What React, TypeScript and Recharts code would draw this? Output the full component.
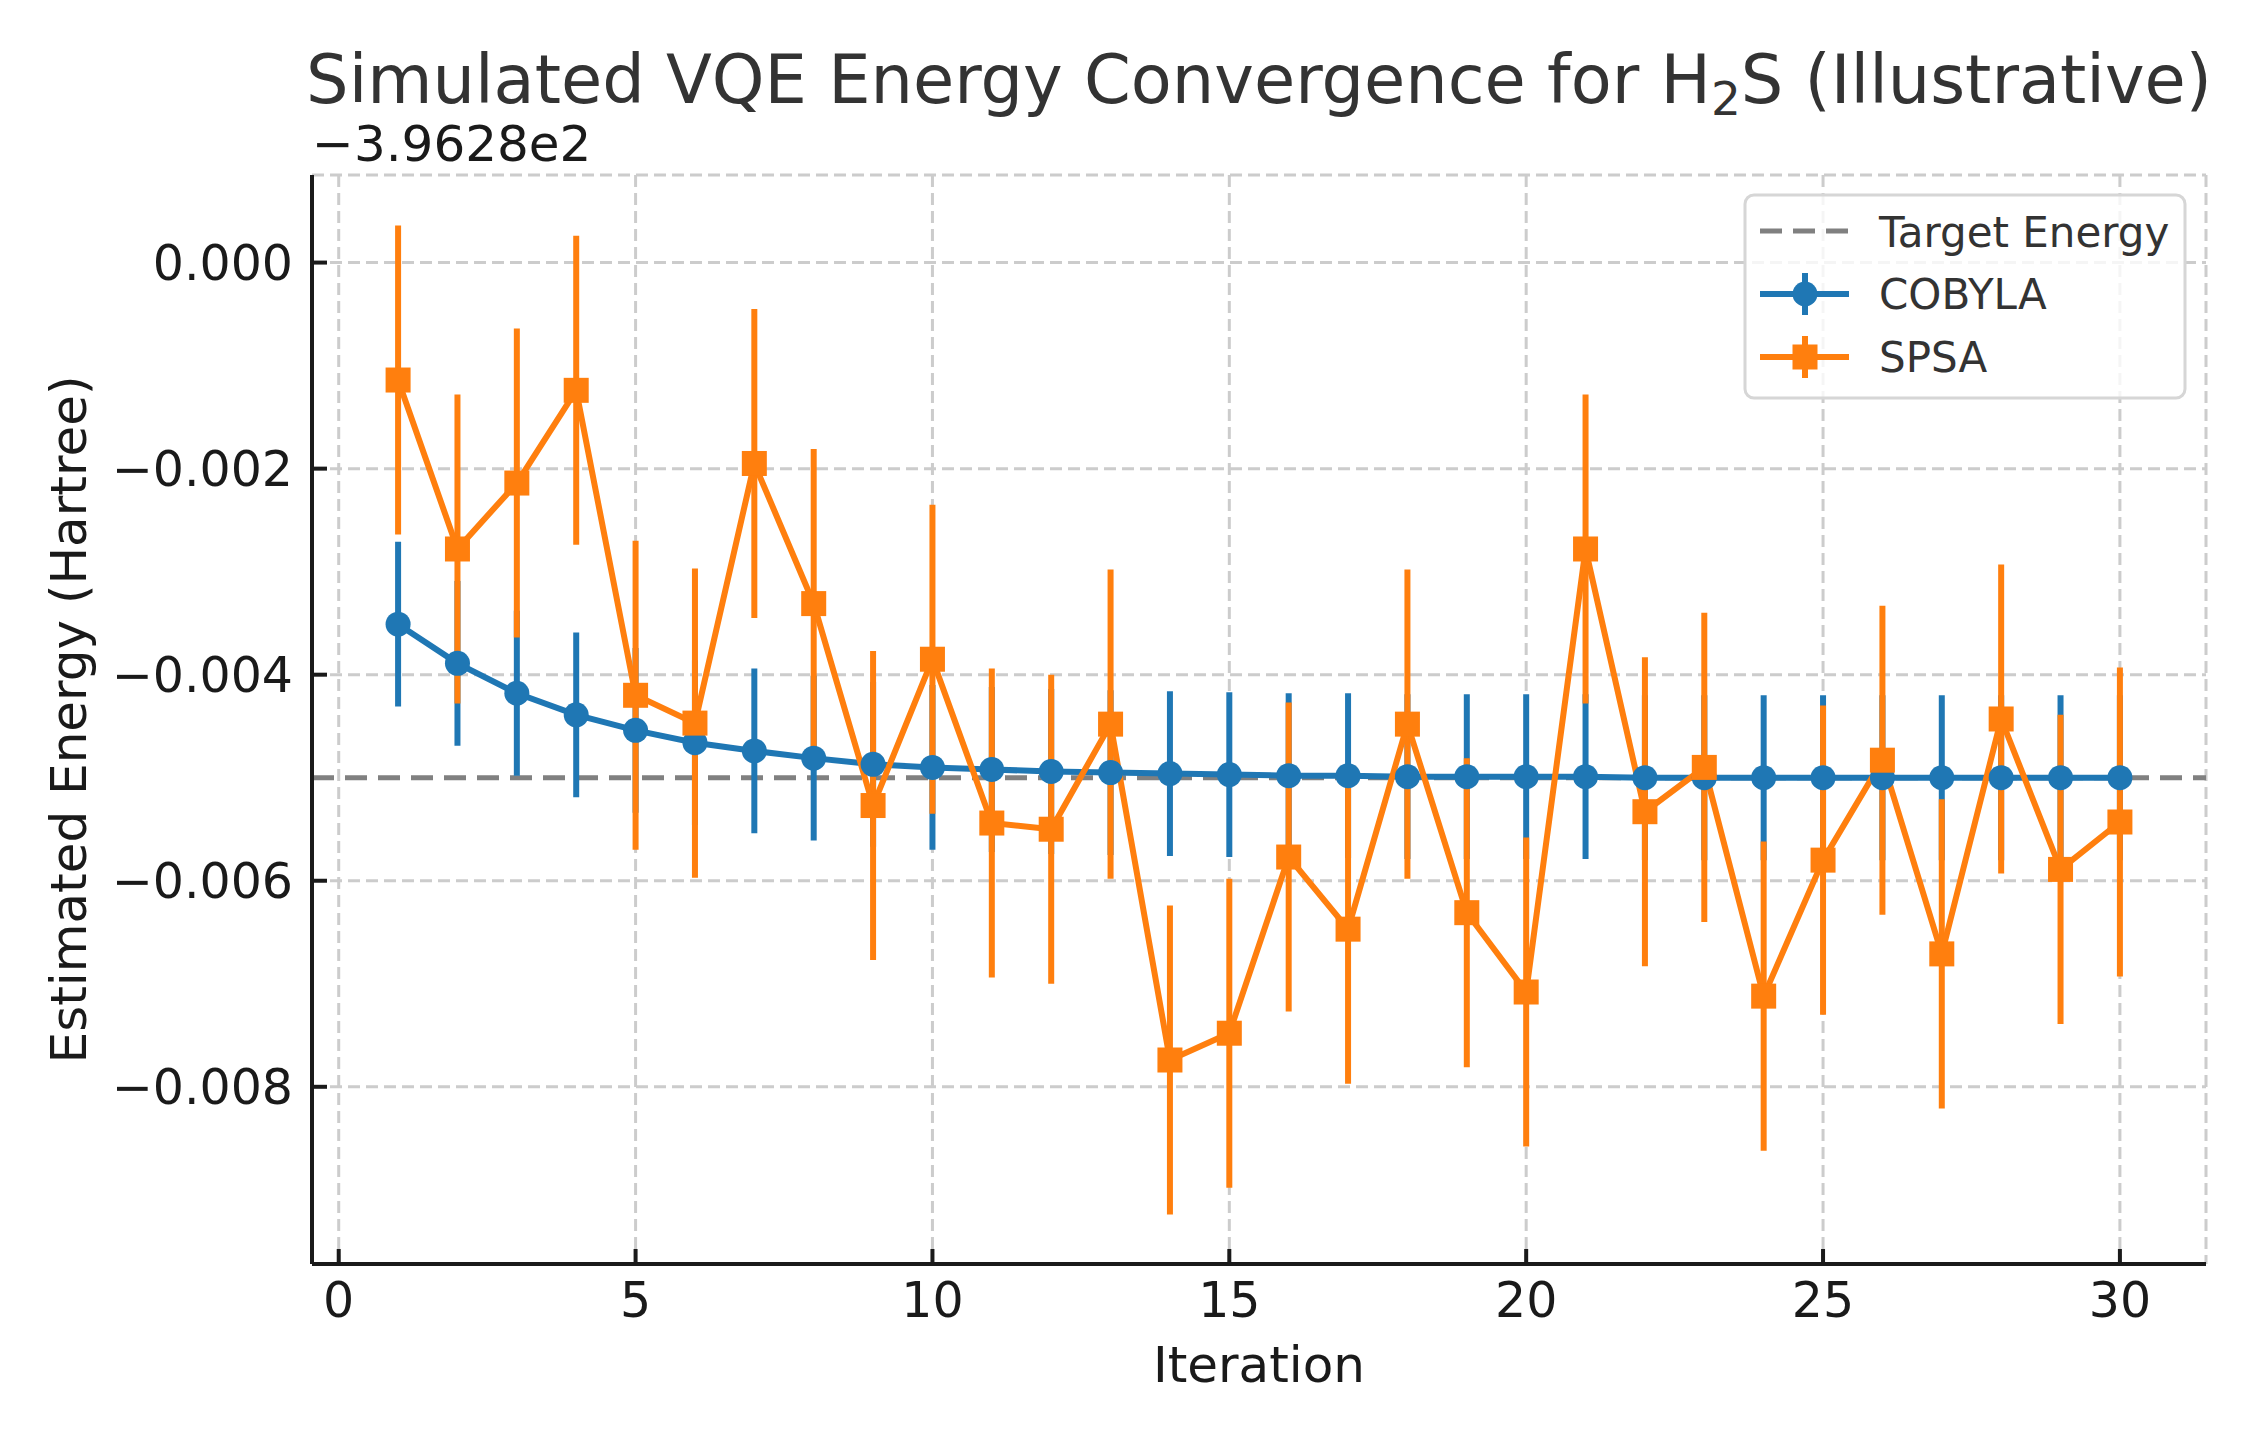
import React from 'react';
import {
  ComposedChart,
  Line,
  XAxis,
  YAxis,
  CartesianGrid,
  ReferenceLine,
  ErrorBar,
} from 'recharts';

// values are offsets from -396.28 Hartree (matplotlib offset text)
const iterations = [
  1, 2, 3, 4, 5, 6, 7, 8, 9, 10, 11, 12, 13, 14, 15,
  16, 17, 18, 19, 20, 21, 22, 23, 24, 25, 26, 27, 28, 29, 30,
];
const cobyla = [
  -0.00351, -0.00389, -0.00418, -0.00439, -0.00454, -0.00466, -0.00474, -0.00481, -0.00487, -0.0049,
  -0.00492, -0.00494, -0.00495, -0.00496, -0.00497, -0.00498, -0.00498, -0.00499, -0.00499, -0.00499,
  -0.00499, -0.005, -0.005, -0.005, -0.005, -0.005, -0.005, -0.005, -0.005, -0.005,
];
const cobylaErr = [
  0.0008, 0.0008, 0.0008, 0.0008, 0.0008, 0.0008, 0.0008, 0.0008, 0.0008, 0.0008,
  0.0008, 0.0008, 0.0008, 0.0008, 0.0008, 0.0008, 0.0008, 0.0008, 0.0008, 0.0008,
  0.0008, 0.0008, 0.0008, 0.0008, 0.0008, 0.0008, 0.0008, 0.0008, 0.0008, 0.0008,
];
const spsa = [
  -0.00114, -0.00278, -0.00214, -0.00124, -0.0042, -0.00447, -0.00195, -0.00331, -0.00527, -0.00385,
  -0.00544, -0.0055, -0.00448, -0.00774, -0.00748, -0.00577, -0.00647, -0.00448, -0.00631, -0.00708,
  -0.00278, -0.00533, -0.0049, -0.00712, -0.0058, -0.00483, -0.00671, -0.00443, -0.00589, -0.00543,
];
const spsaErr = [
  0.0015, 0.0015, 0.0015, 0.0015, 0.0015, 0.0015, 0.0015, 0.0015, 0.0015, 0.0015,
  0.0015, 0.0015, 0.0015, 0.0015, 0.0015, 0.0015, 0.0015, 0.0015, 0.0015, 0.0015,
  0.0015, 0.0015, 0.0015, 0.0015, 0.0015, 0.0015, 0.0015, 0.0015, 0.0015, 0.0015,
];
const targetEnergy = -0.005;
const offsetLabel = '\u22123.9628e2';
const xTicks = [0, 5, 10, 15, 20, 25, 30];
const yTicks = [0, -0.002, -0.004, -0.006, -0.008];

const data = iterations.map((it, i) => ({
  iteration: it,
  cobyla: cobyla[i],
  cobylaErr: cobylaErr[i],
  spsa: spsa[i],
  spsaErr: spsaErr[i],
}));

const BLUE = '#1f77b4';
const ORANGE = '#ff7f0e';
const FONT = '"DejaVu Sans", sans-serif';

const fmtY = (v: number) => (Math.abs(v) < 1e-12 ? '0.000' : '\u2212' + Math.abs(v).toFixed(3));

const SquareDot = (props: any) => {
  const { cx, cy, index } = props;
  if (cx == null || cy == null) return null;
  return <rect key={`sq-${index}`} x={cx - 12.5} y={cy - 12.5} width={25} height={25} fill={ORANGE} />;
};

const XTitle = (props: any) => {
  const vb = props.viewBox || {};
  return (
    <text x={vb.x + vb.width / 2} y={vb.y + 118} textAnchor="middle" fontSize={50} fill="#1a1a1a" fontFamily={FONT}>
      Iteration
    </text>
  );
};

const YTitle = (props: any) => {
  const vb = props.viewBox || {};
  const x = vb.x + 56;
  const y = vb.y + vb.height / 2;
  return (
    <text x={x} y={y} transform={`rotate(-90, ${x}, ${y})`} textAnchor="middle" fontSize={50} fill="#1a1a1a" fontFamily={FONT}>
      Estimated Energy (Hartree)
    </text>
  );
};

export default function App() {
  return (
    <div style={{ position: 'absolute', left: 0, top: 0, width: 2250, height: 1440, background: '#fff', fontFamily: FONT }}>
      <ComposedChart
        width={2250}
        height={1440}
        data={data}
        margin={{ top: 175, right: 44, bottom: 36, left: 30 }}
      >
        <CartesianGrid stroke="#cccccc" strokeWidth={3} strokeDasharray="12 6" />
        <XAxis
          type="number"
          dataKey="iteration"
          domain={[-0.45, 31.45]}
          ticks={xTicks}
          interval={0}
          allowDataOverflow
          height={140}
          tickSize={-15}
          tickMargin={33}
          stroke="#1a1a1a"
          strokeWidth={4}
          tick={{ fontSize: 49, fill: '#1a1a1a', fontFamily: FONT }}
          label={<XTitle />}
        />
        <YAxis
          type="number"
          domain={[-0.00972, 0.00085]}
          ticks={yTicks}
          interval={0}
          allowDataOverflow
          width={282}
          tickSize={-15}
          tickMargin={34}
          tickFormatter={fmtY}
          stroke="#1a1a1a"
          strokeWidth={4}
          tick={{ fontSize: 49, fill: '#1a1a1a', fontFamily: FONT }}
          label={<YTitle />}
        />
        <ReferenceLine y={targetEnergy} stroke="#808080" strokeWidth={5} strokeDasharray="22 11" />
        <Line
          dataKey="cobyla"
          name="COBYLA"
          stroke={BLUE}
          strokeWidth={6}
          dot={{ r: 12.5, fill: BLUE, stroke: 'none' }}
          activeDot={false}
          isAnimationActive={false}
        >
          <ErrorBar dataKey="cobylaErr" direction="y" width={0} stroke={BLUE} strokeWidth={6} isAnimationActive={false} />
        </Line>
        <Line
          dataKey="spsa"
          name="SPSA"
          stroke={ORANGE}
          strokeWidth={6}
          dot={<SquareDot />}
          activeDot={false}
          isAnimationActive={false}
        >
          <ErrorBar dataKey="spsaErr" direction="y" width={0} stroke={ORANGE} strokeWidth={6} isAnimationActive={false} />
        </Line>
      </ComposedChart>

      <svg
        width={2250}
        height={1440}
        style={{ position: 'absolute', left: 0, top: 0, pointerEvents: 'none' }}
        fontFamily={FONT}
      >
        <text x={1259} y={103} textAnchor="middle" fontSize={67} fill="#333333">
          Simulated VQE Energy Convergence for H
          <tspan fontSize={47} dy={12}>2</tspan>
          <tspan dy={-12}>S (Illustrative)</tspan>
        </text>
        <text x={312} y={161} fontSize={50} fill="#1a1a1a">
          {offsetLabel}
        </text>

        <rect x={1745} y={195} width={440} height={203} rx={9} fill="rgba(255,255,255,0.8)" stroke="#d6d6d6" strokeWidth={3} />
        <line x1={1760} x2={1849} y1={231} y2={231} stroke="#808080" strokeWidth={5} strokeDasharray="22 11" />
        <text x={1879} y={246.7} fontSize={42} fill="#333333">Target Energy</text>

        <line x1={1760} x2={1849} y1={294} y2={294} stroke={BLUE} strokeWidth={6} />
        <line x1={1805} x2={1805} y1={273} y2={315} stroke={BLUE} strokeWidth={6} />
        <circle cx={1805} cy={294} r={12.5} fill={BLUE} />
        <text x={1879} y={309} fontSize={42} fill="#333333">COBYLA</text>

        <line x1={1760} x2={1849} y1={357} y2={357} stroke={ORANGE} strokeWidth={6} />
        <line x1={1805} x2={1805} y1={336} y2={378} stroke={ORANGE} strokeWidth={6} />
        <rect x={1792.5} y={344.5} width={25} height={25} fill={ORANGE} />
        <text x={1879} y={372} fontSize={42} fill="#333333">SPSA</text>
      </svg>
    </div>
  );
}
